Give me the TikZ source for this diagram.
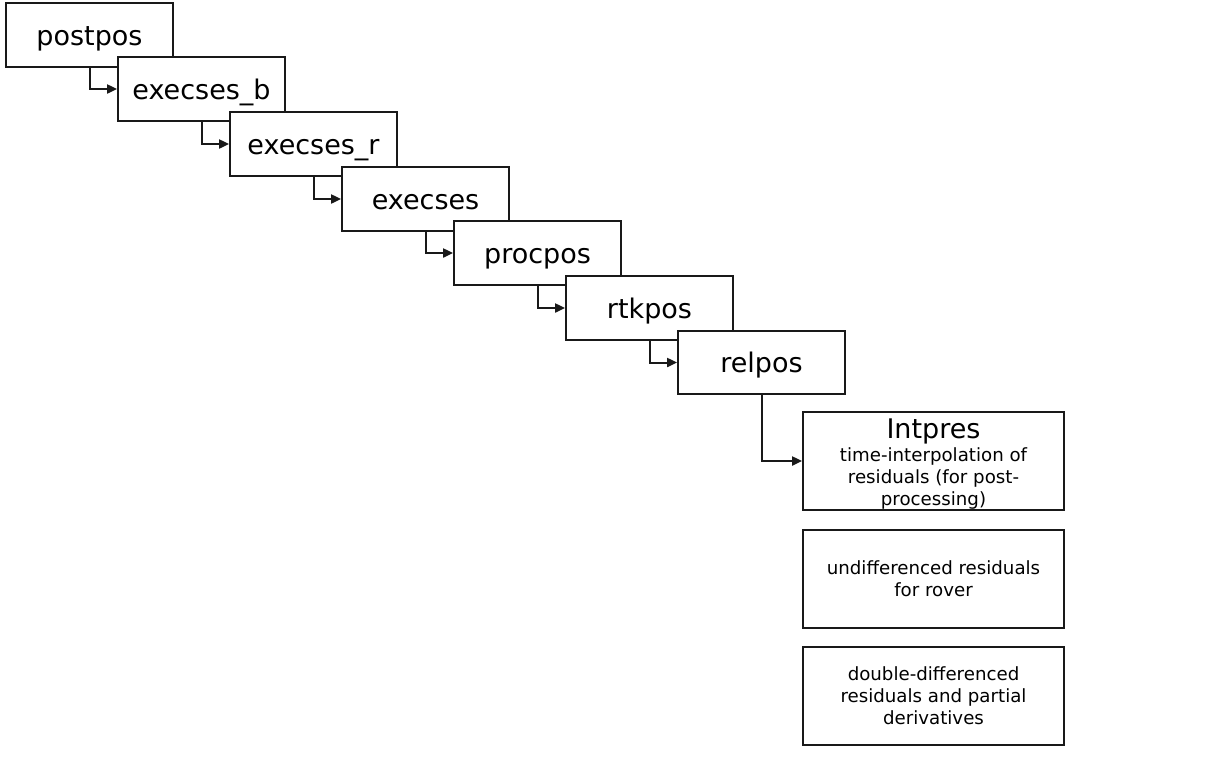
\documentclass[tikz,border=0pt]{standalone}
\usepackage{fontspec}
\setmainfont{DejaVu Sans}
\usetikzlibrary{arrows.meta}
\begin{document}
\begin{tikzpicture}[x=1pt,y=-1pt,
  fnbox/.style={draw=black!90,line width=1.8pt,fill=white,minimum width=167pt,minimum height=64pt,inner sep=0pt,text height=25pt,text depth=5pt,font=\fontsize{27}{30}\selectfont},
  descbox/.style={draw=black!90,line width=1.8pt,fill=white,minimum width=261pt,minimum height=98pt,inner sep=0pt,align=center,font=\fontsize{18.2}{22}\selectfont},
  conn/.style={draw=black!90,line width=2pt,-{Triangle[length=10pt,width=9pt]}}]
\useasboundingbox (0,0) rectangle (1212,772);
\node[fnbox] (postpos) at (89.5,35) {postpos};
\node[fnbox] (execsesb) at (201.5,89) {execses\_b};
\node[fnbox] (execsesr) at (313.5,144) {execses\_r};
\node[fnbox] (execses) at (425.5,199) {execses};
\node[fnbox] (procpos) at (537.5,253) {procpos};
\node[fnbox] (rtkpos) at (649.5,308) {rtkpos};
\node[fnbox,minimum height=63pt] (relpos) at (761.5,362.5) {relpos};
\node[descbox] (intpres) at (933.5,461) {{\fontsize{27}{27}\selectfont\rule{0pt}{26pt}Intpres}\\[1pt]time-interpolation of\\residuals (for post-\\processing)};
\node[descbox] (undiff) at (933.5,579) {undifferenced residuals\\for rover};
\node[descbox] (dd) at (933.5,696) {double-differenced\\residuals and partial\\derivatives};
\draw[conn] ([xshift=0.5pt]postpos.south) |- (execsesb.west);
\draw[conn] ([xshift=0.5pt]execsesb.south) |- (execsesr.west);
\draw[conn] ([xshift=0.5pt]execsesr.south) |- (execses.west);
\draw[conn] ([xshift=0.5pt]execses.south) |- (procpos.west);
\draw[conn] ([xshift=0.5pt]procpos.south) |- (rtkpos.west);
\draw[conn] ([xshift=0.5pt]rtkpos.south) |- (relpos.west);
\draw[conn] ([xshift=0.5pt]relpos.south) |- (intpres.west);
\end{tikzpicture}
\end{document}
